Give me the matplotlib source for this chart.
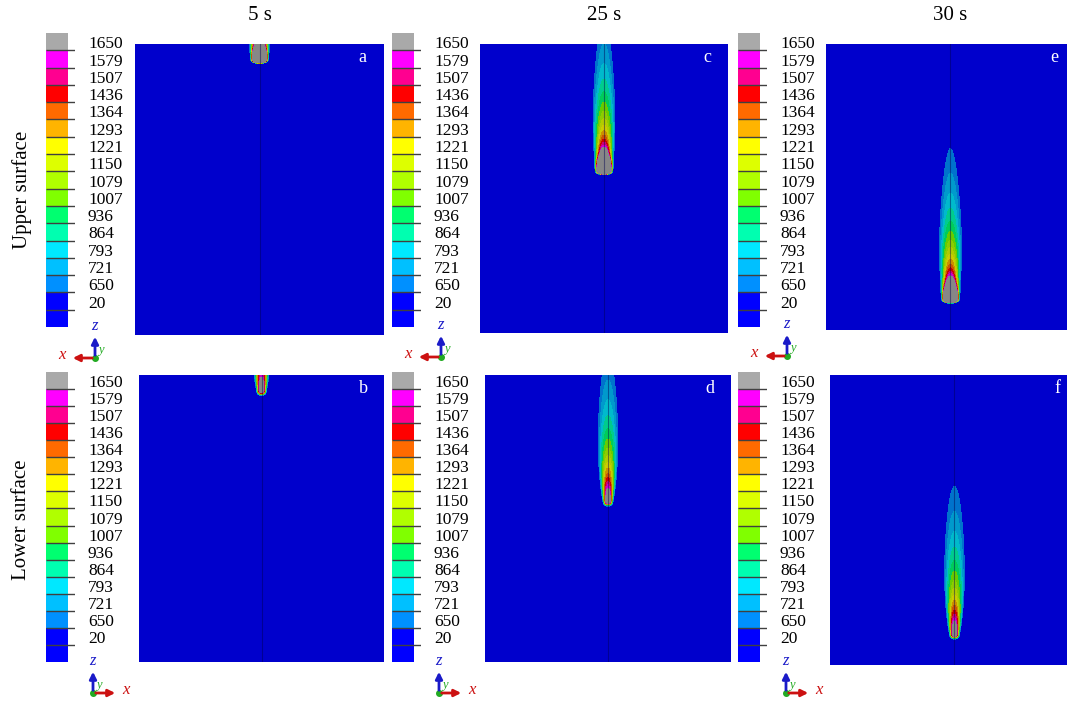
import matplotlib.pyplot as plt
import numpy as np
from matplotlib.colors import to_rgb

plt.rcParams['font.family'] = ['Liberation Serif', 'DejaVu Serif']

# Data
times = ["5 s", "25 s", "30 s"]
surfaces = ["Upper surface", "Lower surface"]
letters = [["a", "c", "e"], ["b", "d", "f"]]
legend_values = [1650, 1579, 1507, 1436, 1364, 1293, 1221, 1150, 1079, 1007, 936, 864, 793, 721, 650, 20]
band_colors = ["#A9A9A9", "#FF00FF", "#FF0090", "#FF0000", "#FF6A00", "#FFB400", "#FFFF00", "#DDFF00",
               "#B0FF00", "#80FF00", "#00FF70", "#00FFB0", "#00E8FF", "#00C0FF", "#0090FF", "#0000FF", "#0000FF"]

# heat source depth below the top edge of the plate (mm) at 5, 25, 30 s
source_depth = [6.2, 51.3, 104.4]

tail_amp = [2497, 2026]
tail_d0 = [10, 15]
tail_exp = [0.7, 0.73]
spike_amp = [7600, 0]
spike_len = [2.0, 2.0]
front_len = [1.0, 2.0]
width0 = [2.1, 1.9]
width1 = [6.0, 8.5]
width_len = [22, 40]

W, H = 1067, 704
fig = plt.figure(figsize=(W / 100, H / 100), dpi=100)


def px_axes(left, top, right, bottom):
    return fig.add_axes([left / W, 1 - bottom / H, (right - left) / W, (bottom - top) / H])


def temperature(X, Z, zs, k):
    d = zs - Z  # distance behind the source
    db = np.clip(d, 0, None)
    f = tail_amp[k] / (1 + db / tail_d0[k]) ** tail_exp[k] + spike_amp[k] * np.exp(-db / spike_len[k])
    f = np.where(d < 0, f * np.exp(-(d / front_len[k]) ** 2), f)
    w = width0[k] + width1[k] * (1 - np.exp(-db / width_len[k]))
    return 20 + f * np.exp(-(X / w) ** 2)


levels = [0] + legend_values[::-1] + [1e5]
panel_colors = [tuple(0.8 * c for c in to_rgb(col)) for col in band_colors[::-1]]

x = np.linspace(-50, 50, 501)
z = np.linspace(0, 117, 586)
X, Z = np.meshgrid(x, z)

panel_boxes = [[(135, 44, 384, 335), (480, 44, 728, 333), (826, 44, 1075, 330)],
               [(139, 375, 384, 662), (485, 375, 731, 662), (830, 375, 1079, 665)]]
cbar_left = [46, 392, 738]
cbar_rows = [(33, 327), (372, 662)]

for r in range(2):
    for c in range(3):
        ax = px_axes(*panel_boxes[r][c])
        T = temperature(X, Z, source_depth[c], r)
        ax.contourf(X, Z, T, levels=levels, colors=panel_colors)
        ax.axvline(0, color="#000050", lw=0.8, alpha=0.45)
        ax.set_xlim(-50, 50)
        ax.set_ylim(117, 0)
        ax.axis('off')
        ax.text(0.915, 0.952, letters[r][c], transform=ax.transAxes, color="white",
                fontsize=13, ha='center', va='center')
        if r == 0:
            ax.text(0.5, 1 + 29 / 291, times[c], transform=ax.transAxes,
                    fontsize=15, ha='center', va='center')

        # legend bar
        top, bottom = cbar_rows[r]
        cb = px_axes(cbar_left[c], top, cbar_left[c] + 29, bottom)
        n = len(band_colors)
        for i, col in enumerate(band_colors[::-1]):
            cb.bar(0.5, 1, bottom=i, width=1, color=col, linewidth=0)
        cb.hlines(np.arange(1, n), 0, 29 / 22, color="#404040", lw=1)
        for i, v in enumerate(legend_values[::-1]):
            cb.text(42 / 22, i + 1 + 0.35, str(v), fontsize=12.5, ha='left', va='center', clip_on=False)
        cb.set_xlim(0, 29 / 22)
        cb.set_ylim(0, n)
        cb.axis('off')

for r, label in enumerate(surfaces):
    fig.text(22 / W, 1 - [190, 520][r] / H, label, rotation=90, fontsize=15, ha='center', va='center')

# coordinate triads
ov = fig.add_axes([0, 0, 1, 1])
ov.set_xlim(0, W)
ov.set_ylim(H, 0)
ov.axis('off')
triad_origins = [[(95, 358), (441, 357), (787, 356)], [(93, 693), (439, 693), (786, 693)]]
for r in range(2):
    sx = -1 if r == 0 else 1
    for ox, oy in triad_origins[r]:
        ov.annotate('', xy=(ox + sx * 25, oy), xytext=(ox, oy),
                    arrowprops=dict(arrowstyle='-|>', color="#CC1111", lw=2, mutation_scale=10))
        ov.annotate('', xy=(ox, oy - 24), xytext=(ox, oy),
                    arrowprops=dict(arrowstyle='-|>', color="#1A1AC8", lw=2, mutation_scale=10))
        ov.plot(ox, oy, 'o', color="#22AA22", ms=4)
        ov.text(ox + sx * 33, oy - 3, 'x', color="#CC1111", fontsize=12, style='italic', ha='center', va='center')
        ov.text(ox - 1, oy - 32, 'z', color="#1A1AC8", fontsize=12, style='italic', ha='center', va='center')
        ov.text(ox + 6, oy - 8, 'y', color="#22AA22", fontsize=9, style='italic', ha='center', va='center')

fig.savefig("out.png", dpi=100)
